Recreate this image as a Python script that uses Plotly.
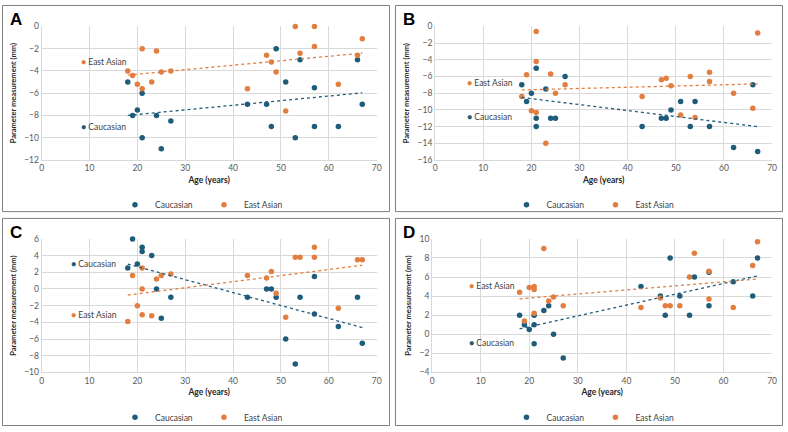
import numpy as np
import plotly.graph_objects as go

W, H = 788, 432

# ---------------- data ----------------
a_cau_age = [18, 19, 20, 21, 21, 24, 25, 27, 43, 47, 48, 49, 51, 53, 54, 57, 57, 62, 66, 67]
a_cau_val = [-5, -8, -7.5, -6, -10, -8, -11, -8.5, -7, -7, -9, -2, -5, -10, -3, -5.5, -9, -9, -3, -7]
a_eas_age = [18, 19, 20, 21, 21, 23, 24, 25, 27, 43, 47, 48, 49, 51, 53, 54, 57, 57, 62, 66, 67]
a_eas_val = [-4, -4.4, -5.2, -2, -5.6, -5, -2.2, -4.1, -4, -5.6, -2.6, -3.2, -4.1, -7.6, 0, -2.4, 0, -1.8, -5.2, -2.6, -1.1]

b_cau_age = [18, 19, 20, 21, 21, 21, 23, 24, 25, 27, 43, 47, 48, 49, 51, 53, 54, 57, 62, 66, 67]
b_cau_val = [-7, -9, -8, -5, -11, -12, -7.5, -11, -11, -6, -12, -11, -11, -10, -9, -12, -9, -12, -14.5, -7, -15]
b_eas_age = [18, 19, 20, 21, 21, 21, 23, 24, 25, 27, 43, 47, 48, 49, 51, 53, 54, 57, 57, 62, 66, 67]
b_eas_val = [-8.4, -5.8, -10.1, -0.6, -4.2, -10.3, -14, -5.7, -8, -7, -8.4, -6.4, -6.2, -7.1, -10.6, -6, -10.9, -5.5, -6.6, -8, -9.8, -0.8]

c_cau_age = [18, 19, 20, 21, 21, 23, 24, 25, 27, 43, 47, 48, 49, 51, 53, 54, 57, 57, 62, 66, 67]
c_cau_val = [2.5, 6, 3, 5, 4.5, 4, 0, -3.5, -1, -1, 0, 0, -1, -6, -9, -1, 1.5, -3, -4.5, -1, -6.5]
c_eas_age = [18, 19, 20, 21, 21, 21, 23, 24, 25, 27, 43, 47, 48, 49, 51, 53, 54, 57, 57, 62, 66, 67]
c_eas_val = [-3.9, 1.6, -2, 2.5, 0, -3.1, -3.2, 1.2, 1.6, 1.8, 1.6, 1.3, 2.1, -0.5, -3.4, 3.8, 3.8, 5, 3.8, -2.3, 3.5, 3.5]

d_cau_age = [18, 19, 20, 21, 21, 21, 23, 24, 25, 27, 43, 47, 48, 49, 51, 53, 54, 57, 57, 62, 66, 67]
d_cau_val = [2, 1, 0.5, 2, 1, -1, 2.5, 3, 0, -2.5, 5, 4, 2, 8, 4, 2, 6, 6.5, 3, 5.5, 4, 8]
d_eas_age = [18, 19, 20, 21, 21, 21, 23, 24, 25, 27, 43, 47, 48, 49, 51, 53, 54, 57, 57, 62, 66, 67]
d_eas_val = [4.4, 1.4, 4.9, 5, 4.7, 2.2, 9, 3.5, 3.9, 3, 2.8, 3.8, 3, 3, 3, 6, 8.5, 6.6, 3.7, 2.8, 7.2, 9.7]

panel_letters = ["A", "B", "C", "D"]
series_names = ["Caucasian", "East Asian"]
y_ranges = [[-12, 0], [-16, 0], [-10, 6], [-4, 10]]
x_range = [0, 70]

# ---------------- style ----------------
BLUE = "#1E5C7A"
ORANGE = "#E27E40"
COLORS = [BLUE, ORANGE]
GRID = "#D9D9D9"
TICK = "#595959"
FONT = "Lato"

def px(x):
    return x / W

def py(y):
    return 1 - y / H

# plot area pixel boxes: (x0, x1, ytop, ybottom)
areas = [(40, 378, 22, 159), (437, 777, 22, 159), (40, 378, 240, 377), (434, 777, 240, 377)]
boxes = [(0.5, 391, 0.5, 212), (397, 787.5, 0.5, 212), (0.5, 391, 219, 431.5), (397, 787.5, 219, 431.5)]
legend_pos = [(114, 205), (509, 205), (114, 423), (509, 423)]
# inline label positions (x, y in data units) for [Caucasian, East Asian]
inline_labels = [[(8.7, -9), (8.7, -3.2)], [(7, -10.8), (7, -6.8)], [(6.5, 3.0), (6.5, -3.1)], [(8, -0.9), (8, 5.1)]]

panels = [
    [(a_cau_age, a_cau_val), (a_eas_age, a_eas_val)],
    [(b_cau_age, b_cau_val), (b_eas_age, b_eas_val)],
    [(c_cau_age, c_cau_val), (c_eas_age, c_eas_val)],
    [(d_cau_age, d_cau_val), (d_eas_age, d_eas_val)],
]

fig = go.Figure()
layout = dict(
    width=W, height=H, margin=dict(l=0, r=0, t=0, b=0),
    paper_bgcolor="white", plot_bgcolor="white",
    font=dict(family=FONT, size=9, color="#404040"),
    shapes=[], annotations=[],
)

for i, panel in enumerate(panels):
    n = i + 1
    xa = "x" if n == 1 else f"x{n}"
    ya = "y" if n == 1 else f"y{n}"
    leg = "legend" if n == 1 else f"legend{n}"
    for s, (ages, vals) in enumerate(panel):
        fig.add_trace(go.Scatter(
            x=ages, y=vals, mode="markers", name=series_names[s],
            marker=dict(color=COLORS[s], size=5.5, line=dict(width=0)),
            xaxis=xa, yaxis=ya, legend=leg, cliponaxis=False,
        ))
    for s, (ages, vals) in enumerate(panel):
        k, b = np.polyfit(ages, vals, 1)
        xs = np.array([min(ages), max(ages)])
        fig.add_trace(go.Scatter(
            x=xs, y=k * xs + b, mode="lines", showlegend=False, hoverinfo="skip",
            line=dict(color=COLORS[s], width=1.3, dash="dot"),
            xaxis=xa, yaxis=ya,
        ))
    x0, x1, yt, yb = areas[i]
    ax_common = dict(
        showgrid=True, gridcolor=GRID, gridwidth=1, zeroline=False,
        showline=True, linecolor=GRID, linewidth=1, mirror=False,
        ticks="", tickfont=dict(family=FONT, size=8.5, color=TICK),
    )
    layout["xaxis" if n == 1 else f"xaxis{n}"] = dict(
        ax_common, domain=[px(x0), px(x1)], range=x_range, dtick=10,
        anchor=ya,
        title=dict(text="<b>Age (years)</b>", font=dict(family=FONT, size=8.5, color="#262626"), standoff=4),
    )
    layout["yaxis" if n == 1 else f"yaxis{n}"] = dict(
        ax_common, domain=[py(yb), py(yt)], range=y_ranges[i], dtick=2,
        anchor=xa,
        title=dict(text="<b>Parameter measurement (mm)</b>", font=dict(family=FONT, size=7.5, color="#262626"), standoff=6),
    )
    lx, ly = legend_pos[i]
    layout[leg] = dict(
        orientation="h", x=px(lx), y=py(ly), xanchor="left", yanchor="middle",
        bgcolor="rgba(0,0,0,0)", font=dict(family=FONT, size=8.5, color="#404040"),
        itemwidth=30, tracegroupgap=0, entrywidth=44, entrywidthmode="pixels",
    )
    bx0, bx1, by0, by1 = boxes[i]
    layout["shapes"].append(dict(
        type="rect", xref="paper", yref="paper",
        x0=px(bx0), x1=px(bx1), y0=py(by1), y1=py(by0),
        line=dict(color="#7F7F7F", width=1), fillcolor="rgba(0,0,0,0)", layer="below",
    ))
    layout["annotations"].append(dict(
        text=f"<b>{panel_letters[i]}</b>", xref="paper", yref="paper",
        x=px(bx0 + 6), y=py(by0 + 3), xanchor="left", yanchor="top", showarrow=False,
        font=dict(family="Liberation Sans", size=17, color="#000000"),
    ))
    for s in range(2):
        lxd, lyd = inline_labels[i][s]
        layout["annotations"].append(dict(
            text=f"<span style='color:{COLORS[s]}'>●</span> {series_names[s]}",
            xref=xa, yref=ya, x=lxd, y=lyd, xanchor="left", yanchor="middle",
            xshift=-4, showarrow=False,
            font=dict(family=FONT, size=8.5, color="#404040"),
        ))

fig.update_layout(**layout)
fig.write_html("out.html")
